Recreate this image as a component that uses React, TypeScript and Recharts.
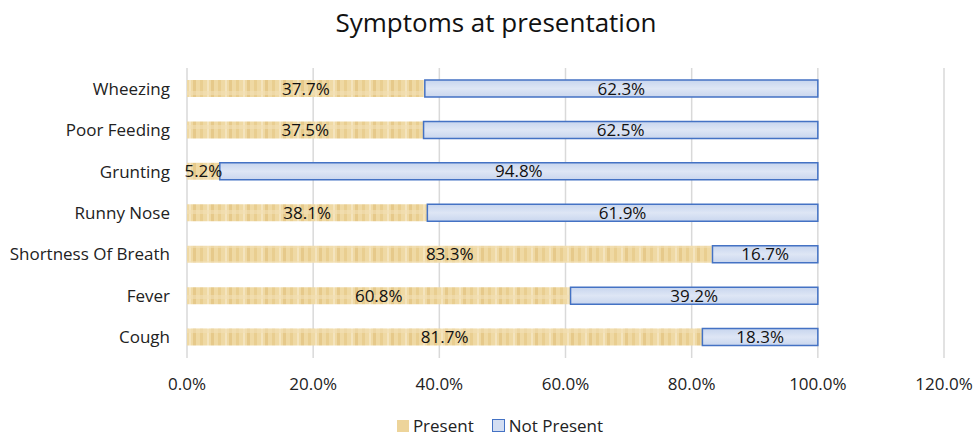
import { BarChart, Bar, XAxis, YAxis, CartesianGrid, LabelList } from 'recharts'

const categories = ['Wheezing', 'Poor Feeding', 'Grunting', 'Runny Nose', 'Shortness Of Breath', 'Fever', 'Cough']
const present = [37.7, 37.5, 5.2, 38.1, 83.3, 60.8, 81.7]
const notPresent = [62.3, 62.5, 94.8, 61.9, 16.7, 39.2, 18.3]
const xTicks = [0, 20, 40, 60, 80, 100, 120]

const data = categories.map((name, i) => ({ name, present: present[i], notPresent: notPresent[i] }))

const FONT = '"Open Sans", "Noto Sans", sans-serif'
const pct = (v: number) => `${v.toFixed(1)}%`

function LegendBox() {
  const item = { display: 'flex', alignItems: 'center', gap: 4 }
  return (
    <div style={{ position: 'absolute', top: 414, left: 0, width: 1000, display: 'flex', justifyContent: 'center', gap: 18, fontFamily: FONT, fontSize: 17, color: '#222' }}>
      <div style={item}>
        <span style={{ width: 12, height: 12, background: '#EDD49A' }} />
        Present
      </div>
      <div style={item}>
        <span style={{ width: 11, height: 11, background: '#D3DEF2', border: '1px solid #4472C4' }} />
        Not Present
      </div>
    </div>
  )
}

export default function App() {
  return (
    <div style={{ position: 'absolute', left: 0, top: 0, width: 976, height: 439, background: '#fff' }}>
      <div style={{ position: 'absolute', top: 4, width: 992, textAlign: 'center', fontFamily: FONT, fontSize: 26, color: '#111' }}>
        Symptoms at presentation
      </div>
      <BarChart
        width={976}
        height={439}
        data={data}
        layout="vertical"
        margin={{ top: 68, right: 32, bottom: 51, left: 0 }}
        barCategoryGap={0}
      >
        <defs>
          <pattern id="tan" width="18" height="17" patternUnits="userSpaceOnUse">
            <rect width="18" height="17" fill="#EFD9A4" />
            <rect x="2" width="3" height="17" fill="#E9CE90" />
            <rect x="9" width="2" height="17" fill="#F4E4BE" />
            <rect x="13" width="3" height="17" fill="#E6C98A" />
            <rect y="6" width="18" height="4" fill="#F2E0B4" opacity="0.6" />
          </pattern>
          <linearGradient id="blue" x1="0" y1="0" x2="0" y2="1">
            <stop offset="0" stopColor="#C7D5EE" />
            <stop offset="0.5" stopColor="#DEE6F5" />
            <stop offset="1" stopColor="#C9D6EE" />
          </linearGradient>
        </defs>
        <CartesianGrid horizontal={false} stroke="#D9D9D9" strokeWidth={1.5} />
        <XAxis
          type="number"
          domain={[0, 120]}
          ticks={xTicks}
          tickFormatter={pct}
          axisLine={false}
          tickLine={false}
          tickMargin={14}
          tick={{ fill: '#222', fontSize: 17, fontFamily: FONT }}
        />
        <YAxis
          type="category"
          dataKey="name"
          width={187}
          axisLine={false}
          tickLine={false}
          tickMargin={11}
          tick={{ fill: '#222', fontSize: 17, fontFamily: FONT }}
        />
        <Bar dataKey="present" name="Present" stackId="a" barSize={17} fill="url(#tan)" isAnimationActive={false}>
          <LabelList dataKey="present" position="center" formatter={(v: any) => pct(Number(v))} style={{ fill: '#111', fontSize: 17, fontFamily: FONT }} />
        </Bar>
        <Bar dataKey="notPresent" name="Not Present" stackId="a" barSize={17} fill="url(#blue)" stroke="#4472C4" strokeWidth={1.5} isAnimationActive={false}>
          <LabelList dataKey="notPresent" position="center" formatter={(v: any) => pct(Number(v))} style={{ fill: '#111', fontSize: 17, fontFamily: FONT }} />
        </Bar>
      </BarChart>
      <LegendBox />
    </div>
  )
}
